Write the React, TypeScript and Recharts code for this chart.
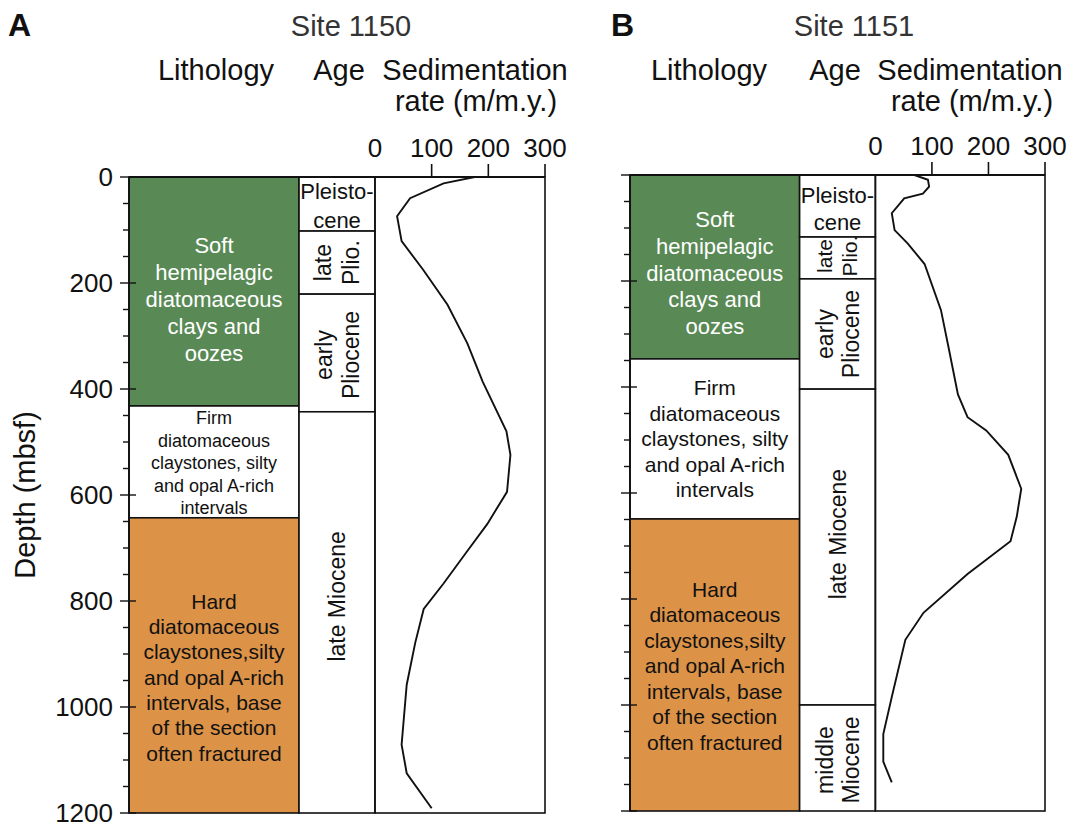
import { ComposedChart, ReferenceArea, Scatter, XAxis, YAxis } from "recharts";

const FONT = '"Liberation Sans", Arial, Helvetica, sans-serif';

// depth axis (mbsf), minor ticks every 50 m
const depthTicks = [0, 50, 100, 150, 200, 250, 300, 350, 400, 450, 500, 550, 600, 650, 700, 750, 800, 850, 900, 950, 1000, 1050, 1100, 1150, 1200];
const rateTicks = [0, 100, 200, 300];

// Site 1150
const lithologyA = [
  { unit: "soft", top: 0, base: 432, lines: ["Soft", "hemipelagic", "diatomaceous", "clays and", "oozes"] },
  { unit: "firm", top: 432, base: 643, lines: ["Firm", "diatomaceous", "claystones, silty", "and opal A-rich", "intervals"] },
  { unit: "hard", top: 643, base: 1200, lines: ["Hard", "diatomaceous", "claystones,silty", "and opal A-rich", "intervals, base", "of the section", "often fractured"] },
];
const ageA = [
  { key: "pleist", top: 0, base: 102, lines: ["Pleisto-", "cene"] },
  { key: "latePlio", top: 102, base: 221, lines: ["late", "Plio."] },
  { key: "earlyPlio", top: 221, base: 443, lines: ["early", "Pliocene"] },
  { key: "lateMio", top: 443, base: 1200, lines: ["late Miocene"] },
];
const rateA = [
  { rate: 176, depth: 0 }, { rate: 121, depth: 12 }, { rate: 62, depth: 40 }, { rate: 39, depth: 74 },
  { rate: 47, depth: 121 }, { rate: 85, depth: 175 }, { rate: 128, depth: 241 }, { rate: 163, depth: 314 },
  { rate: 190, depth: 386 }, { rate: 232, depth: 480 }, { rate: 239, depth: 524 }, { rate: 233, depth: 594 },
  { rate: 198, depth: 655 }, { rate: 162, depth: 707 }, { rate: 121, depth: 767 }, { rate: 86, depth: 815 },
  { rate: 71, depth: 879 }, { rate: 56, depth: 958 }, { rate: 47, depth: 1071 }, { rate: 56, depth: 1125 },
  { rate: 100, depth: 1191 },
];

// Site 1151
const lithologyB = [
  { unit: "soft", top: 0, base: 347, lines: ["Soft", "hemipelagic", "diatomaceous", "clays and", "oozes"] },
  { unit: "firm", top: 347, base: 649, lines: ["Firm", "diatomaceous", "claystones, silty", "and opal A-rich", "intervals"] },
  { unit: "hard", top: 649, base: 1200, lines: ["Hard", "diatomaceous", "claystones,silty", "and opal A-rich", "intervals, base", "of the section", "often fractured"] },
];
const ageB = [
  { key: "pleist", top: 0, base: 117, lines: ["Pleisto-", "cene"] },
  { key: "latePlio", top: 117, base: 196, lines: ["late", "Plio."] },
  { key: "earlyPlio", top: 196, base: 404, lines: ["early", "Pliocene"] },
  { key: "lateMio", top: 404, base: 1000, lines: ["late Miocene"] },
  { key: "midMio", top: 1000, base: 1200, lines: ["middle", "Miocene"] },
];
const rateB = [
  { rate: 69, depth: 0 }, { rate: 93, depth: 9 }, { rate: 95, depth: 22 }, { rate: 84, depth: 35 },
  { rate: 51, depth: 44 }, { rate: 29, depth: 72 }, { rate: 34, depth: 104 }, { rate: 57, depth: 129 },
  { rate: 87, depth: 168 }, { rate: 116, depth: 255 }, { rate: 129, depth: 323 }, { rate: 146, depth: 414 },
  { rate: 163, depth: 457 }, { rate: 196, depth: 482 }, { rate: 235, depth: 528 }, { rate: 258, depth: 592 },
  { rate: 250, depth: 645 }, { rate: 239, depth: 691 }, { rate: 163, depth: 753 }, { rate: 85, depth: 826 },
  { rate: 53, depth: 877 }, { rate: 29, depth: 985 }, { rate: 14, depth: 1055 }, { rate: 14, depth: 1107 },
  { rate: 29, depth: 1146 },
];

// x extent of the lithology and age columns, in rate units left of 0
const X_DOMAIN = [-434, 300];
const LITH_X = [-434, -134];
const AGE_X = [-134, 0];

const lithFill: Record<string, string> = { soft: "#598a55", firm: "#ffffff", hard: "#dc9247" };
const lithText: Record<string, string> = { soft: "#ffffff", firm: "#111111", hard: "#111111" };

type TextStyle = { fontSize: number; lh: number; shift: number; rotate?: boolean };

const panelA = {
  left: 0,
  width: 600,
  margin: { top: 137, left: 69, right: 55, bottom: 32 },
  depthLabels: true,
  lith: {
    soft: { fontSize: 22, lh: 27, shift: 8 },
    firm: { fontSize: 18, lh: 22.5, shift: 1 },
    hard: { fontSize: 21, lh: 25.3, shift: 12 },
  } as Record<string, TextStyle>,
  age: {
    pleist: { fontSize: 22, lh: 29, shift: 2 },
    latePlio: { fontSize: 23, lh: 28, shift: 0, rotate: true },
    earlyPlio: { fontSize: 23, lh: 27, shift: 2, rotate: true },
    lateMio: { fontSize: 23, lh: 27, shift: -16, rotate: true },
  } as Record<string, TextStyle>,
};

const panelB = {
  left: 500,
  width: 573,
  margin: { top: 135, left: 70, right: 28, bottom: 34 },
  depthLabels: false,
  lith: {
    soft: { fontSize: 22, lh: 26.7, shift: 6 },
    firm: { fontSize: 21, lh: 25.5, shift: 0 },
    hard: { fontSize: 21, lh: 25.5, shift: 1 },
  } as Record<string, TextStyle>,
  age: {
    pleist: { fontSize: 22, lh: 27, shift: 3 },
    latePlio: { fontSize: 21, lh: 25, shift: -2, rotate: true },
    earlyPlio: { fontSize: 23, lh: 26, shift: 0, rotate: true },
    lateMio: { fontSize: 23, lh: 26, shift: -13, rotate: true },
    midMio: { fontSize: 23, lh: 26, shift: 2, rotate: true },
  } as Record<string, TextStyle>,
};

function Block({ x, y, width, height, fill, color, lines, st }: any) {
  const cx = x + width / 2;
  const cy = y + height / 2 + st.shift;
  const n = lines.length;
  return (
    <g>
      <rect x={x} y={y} width={width} height={height} fill={fill} stroke="#111" strokeWidth={1.6} />
      <text
        fontFamily={FONT}
        fontSize={st.fontSize}
        fill={color}
        textAnchor="middle"
        transform={st.rotate ? `rotate(-90, ${cx}, ${cy})` : undefined}
      >
        {lines.map((line: string, i: number) => (
          <tspan key={i} x={cx} y={cy + (i - (n - 1) / 2) * st.lh} dy="0.35em">
            {line}
          </tspan>
        ))}
      </text>
    </g>
  );
}

function DepthTick({ x, y, payload, showLabel }: any) {
  const v = payload.value;
  const major = v % 200 === 0;
  return (
    <g>
      <line x1={major ? x - 9 : x - 6} x2={major ? x + 7 : x} y1={y} y2={y} stroke="#111" strokeWidth={1.4} />
      {major && showLabel && (
        <text x={x - 16} y={y} dy="0.36em" textAnchor="end" fontFamily={FONT} fontSize={26} fill="#111">
          {v}
        </text>
      )}
    </g>
  );
}

function RateTick({ x, y, payload }: any) {
  const v = payload.value;
  return (
    <g>
      {v !== 0 && <line x1={x} x2={x} y1={y} y2={y - 13} stroke="#111" strokeWidth={1.6} />}
      <text x={x} y={y - 20} textAnchor="middle" fontFamily={FONT} fontSize={26} fill="#111">
        {v}
      </text>
    </g>
  );
}

function Panel({ cfg, lith, age, rate }: any) {
  return (
    <div style={{ position: "absolute", left: cfg.left, top: 0 }}>
      <ComposedChart width={cfg.width} height={845} margin={cfg.margin} style={{ overflow: "visible" }}>
        {lith.map((u: any) => (
          <ReferenceArea
            key={u.unit}
            x1={LITH_X[0]}
            x2={LITH_X[1]}
            y1={u.top}
            y2={u.base}
            shape={(p: any) => (
              <Block {...p} fill={lithFill[u.unit]} color={lithText[u.unit]} lines={u.lines} st={cfg.lith[u.unit]} />
            )}
          />
        ))}
        {age.map((a: any) => (
          <ReferenceArea
            key={a.key}
            x1={AGE_X[0]}
            x2={AGE_X[1]}
            y1={a.top}
            y2={a.base}
            shape={(p: any) => <Block {...p} fill="#ffffff" color="#111" lines={a.lines} st={cfg.age[a.key]} />}
          />
        ))}
        <ReferenceArea
          x1={0}
          x2={300}
          y1={0}
          y2={1200}
          shape={(p: any) => (
            <rect x={p.x} y={p.y} width={p.width} height={p.height} fill="none" stroke="#111" strokeWidth={1.6} />
          )}
        />
        <Scatter
          data={rate}
          line={{ stroke: "#111", strokeWidth: 1.9 }}
          lineType="joint"
          shape={() => <g />}
          isAnimationActive={false}
        />
        <XAxis
          type="number"
          dataKey="rate"
          orientation="top"
          domain={X_DOMAIN}
          allowDataOverflow
          ticks={rateTicks}
          interval={0}
          height={40}
          tickSize={0}
          tickMargin={0}
          tickLine={false}
          axisLine={{ stroke: "#111", strokeWidth: 2 }}
          tick={(p: any) => <RateTick {...p} />}
        />
        <YAxis
          type="number"
          dataKey="depth"
          domain={[0, 1200]}
          reversed
          allowDataOverflow
          ticks={depthTicks}
          interval={0}
          width={60}
          tickSize={0}
          tickMargin={0}
          tickLine={false}
          axisLine={{ stroke: "#111", strokeWidth: 1.8 }}
          tick={(p: any) => <DepthTick {...p} showLabel={cfg.depthLabels} />}
        />
      </ComposedChart>
    </div>
  );
}

export default function App() {
  const head = { fontFamily: FONT, fontSize: 29, fill: "#111", textAnchor: "middle" as const };
  return (
    <div style={{ position: "fixed", left: 0, top: 0, width: 1073, height: 825, background: "#fff", overflow: "hidden" }}>
      <svg width={1073} height={825} style={{ position: "absolute", left: 0, top: 0 }}>
        <text x={8} y={36} fontFamily={FONT} fontSize={32} fontWeight="bold" fill="#111">A</text>
        <text x={611} y={36} fontFamily={FONT} fontSize={32} fontWeight="bold" fill="#111">B</text>
        <text {...head} x={351} y={36} fill="#333">Site 1150</text>
        <text {...head} x={854} y={36} fill="#333">Site 1151</text>
        <text {...head} x={216} y={80}>Lithology</text>
        <text {...head} x={339} y={80}>Age</text>
        <text {...head} x={475} y={80}>Sedimentation</text>
        <text {...head} x={476} y={111}>rate (m/m.y.)</text>
        <text {...head} x={709} y={80}>Lithology</text>
        <text {...head} x={835} y={80}>Age</text>
        <text {...head} x={970} y={80}>Sedimentation</text>
        <text {...head} x={972} y={111}>rate (m/m.y.)</text>
        <text {...head} x={25} y={495} dy="0.35em" transform="rotate(-90, 25, 495)">Depth (mbsf)</text>
      </svg>
      <Panel cfg={panelA} lith={lithologyA} age={ageA} rate={rateA} />
      <Panel cfg={panelB} lith={lithologyB} age={ageB} rate={rateB} />
    </div>
  );
}
